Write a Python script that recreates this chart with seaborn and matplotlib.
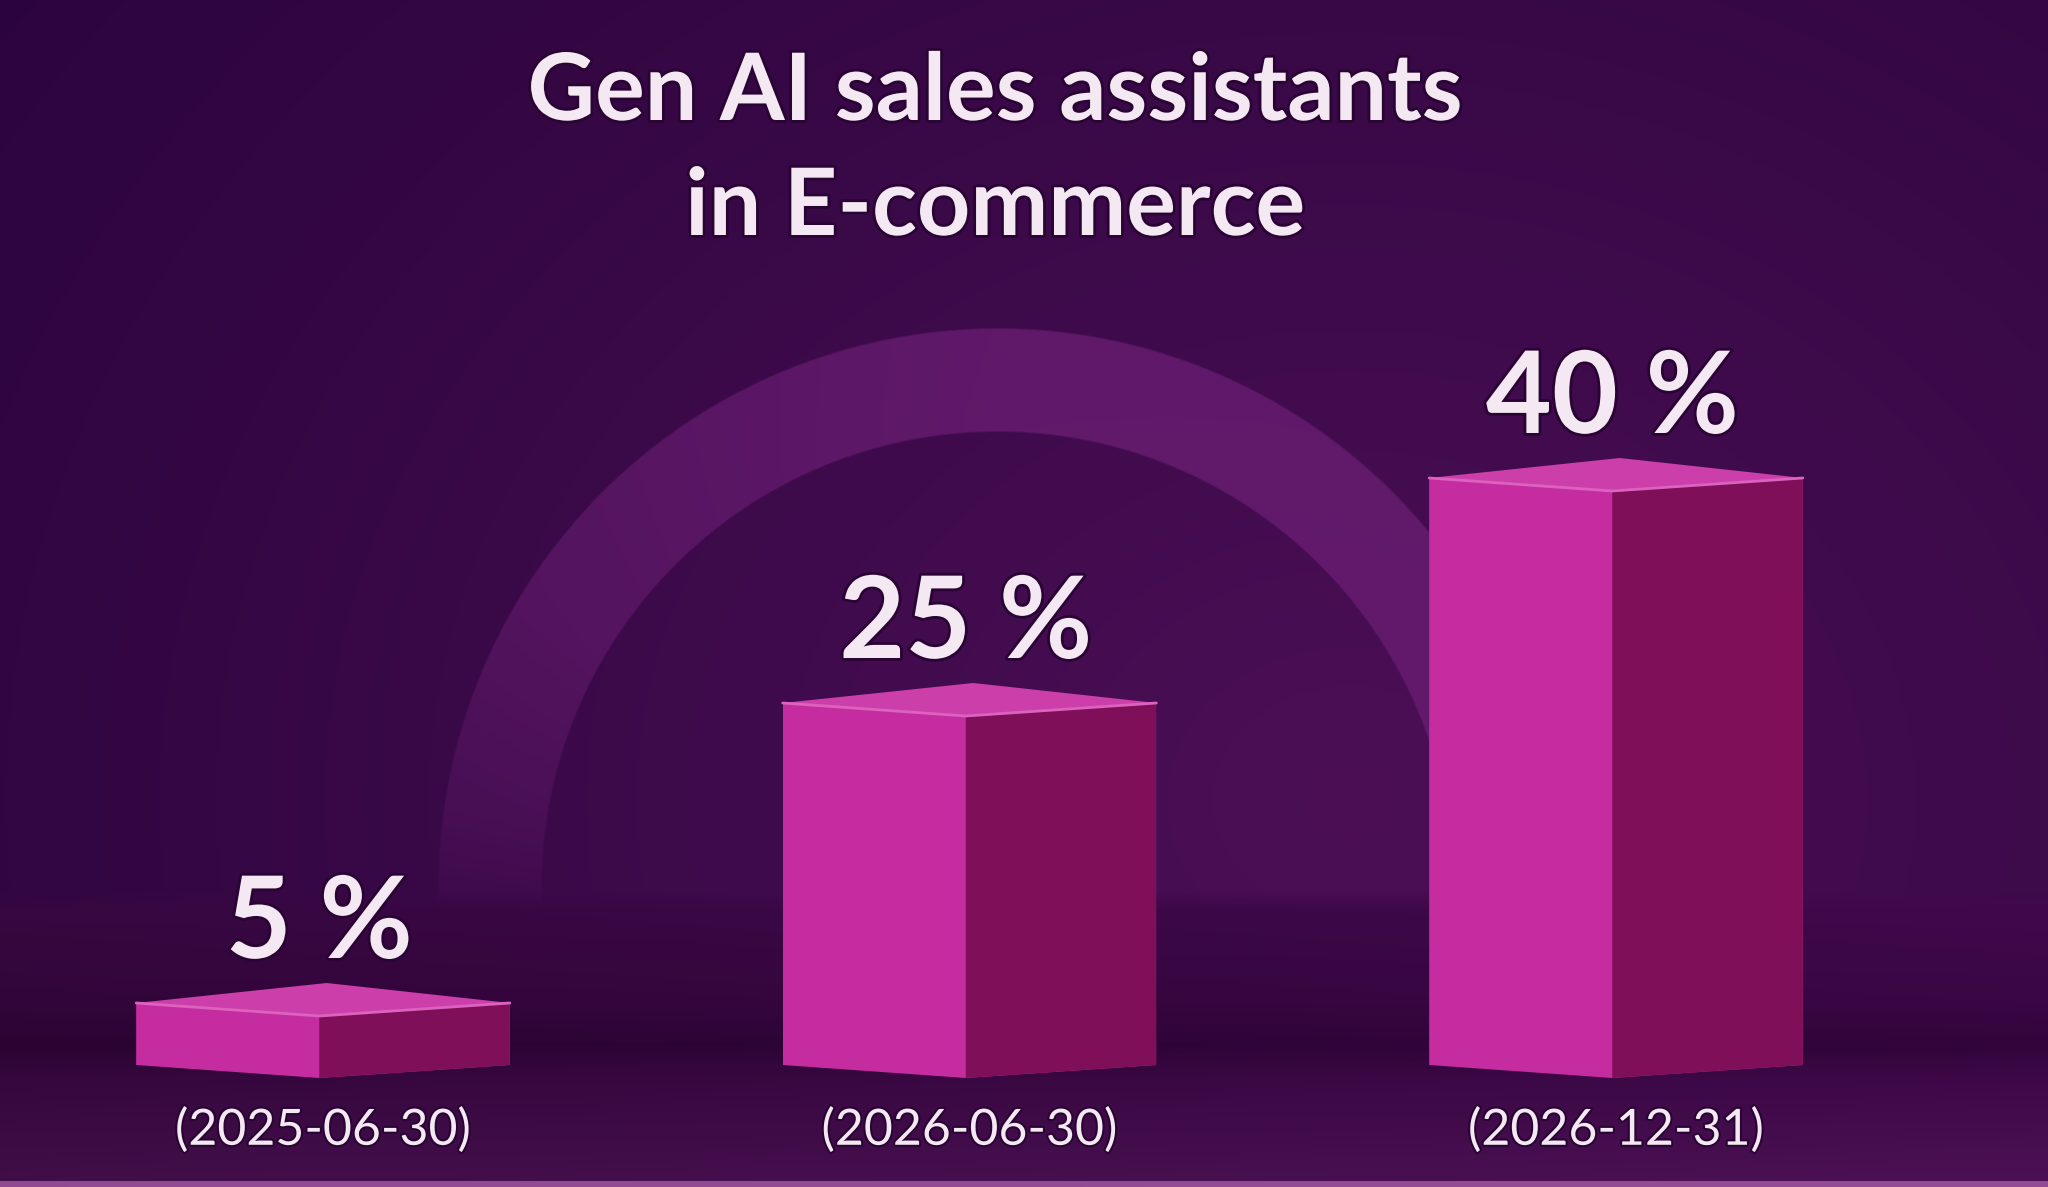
import numpy as np
import pandas as pd
import matplotlib
matplotlib.use("Agg")
import matplotlib.pyplot as plt
import matplotlib.patheffects as pe
from matplotlib.patches import Polygon
import seaborn as sns

# data
title_lines = ["Gen AI sales assistants", "in E-commerce"]
dates = ["(2025-06-30)", "(2026-06-30)", "(2026-12-31)"]
shares = [5, 25, 40]
value_labels = ["5 %", "25 %", "40 %"]

W, H = 2048, 1187
TEXT = "#f4e8f3"
LEFT_FACE = "#c52c9f"
RIGHT_FACE = "#7f0f58"
TOP_FACE = "#cc3fab"
OUTLINE = "#2a0434"

sns.set_style("white")
plt.rcParams["font.family"] = ["Lato", "DejaVu Sans"]

fig = plt.figure(figsize=(W / 100, H / 100), dpi=100)

# background: wall, floor and the faded arc, painted in pixel coordinates
bg = fig.add_axes([0, 0, 1, 1])
bg.set_xlim(0, W)
bg.set_ylim(H, 0)
bg.axis("off")

yy, xx = np.mgrid[0:H, 0:W]
dark = np.array([0x2b, 0x04, 0x3c]) / 255
light = np.array([0x4c, 0x0f, 0x56]) / 255
dist = np.hypot((xx - 1350) / 1.2, yy - 800)
t = np.clip(1 - dist / 1500, 0, 1) ** 1.2
wall = dark + (light - dark) * t[..., None]

# arc band on the wall
cx, cy, r_out, r_in = 997, 887, 560, 455
rr = np.hypot(xx - cx, yy - cy)
ang = np.degrees(np.arctan2(cy - yy, xx - cx))
ang = np.where(ang < -90, ang + 360, ang)
a_arc = np.interp(ang, [0, 90, 150, 172, 186], [0.5, 0.55, 0.38, 0.22, 0.0])
a_arc = np.where(ang < 0, 0, a_arc)
edge = np.clip((r_out - rr) / 2, 0, 1) * np.clip((rr - r_in) / 2, 0, 1)
a_arc = (a_arc * edge)[..., None]
arc_col = np.array([0x7c, 0x25, 0x83]) / 255
wall = wall * (1 - a_arc) + arc_col * a_arc

fy = [900, 1000, 1045, 1080, 1187]
fcols = np.array([[0x3c, 0x08, 0x47], [0x36, 0x06, 0x3f], [0x2e, 0x04, 0x37],
                  [0x3a, 0x08, 0x43], [0x47, 0x10, 0x4f]]) / 255
col_y = np.stack([np.interp(np.arange(H), fy, fcols[:, c]) for c in range(3)], axis=1)
floor = col_y[:, None, :] * (0.92 + 0.16 * (xx / W))[..., None]
blend = np.clip((yy - 890) / 20, 0, 1)[..., None]
img = np.clip(wall * (1 - blend) + floor * blend, 0, 1)
bg.imshow(img, extent=(0, W, H, 0), aspect="auto", interpolation="bilinear", zorder=0)
bg.axhspan(1181, H, color="#a65aa6", alpha=0.8, lw=0, zorder=1)

# bars
ax = fig.add_axes([0, 0, 1, 1])
ax.set_facecolor("none")
df = pd.DataFrame({"date": dates, "share": shares})
sns.barplot(data=df, x="date", y="share", color=LEFT_FACE, saturation=1,
            width=0.578, errorbar=None, ax=ax)

px_x = 646.5
px_y = 15.0
x_start = -323 / px_x
ax.set_xlim(x_start, x_start + W / px_x)
ax.set_ylim(-109 / px_y, (H - 109) / px_y)

d = 13 / px_y
d2 = 20 / px_y
for p, lab in zip(ax.patches, value_labels):
    x0, w, h = p.get_x(), p.get_width(), p.get_height()
    x1 = x0 + w
    xe = x0 + 0.49 * w
    xb = x0 + (x1 - xe)
    outline = Polygon([(x0, d), (xe, 0), (x1, d), (x1, h), (xe, h - d), (x0, h)],
                      closed=True, transform=ax.transData)
    p.set_clip_path(outline)
    p.set_linewidth(0)
    ax.add_patch(Polygon([(xe, 0), (x1, d), (x1, h), (xe, h - d)],
                         closed=True, color=RIGHT_FACE, lw=0, zorder=3))
    ax.add_patch(Polygon([(x0, h), (xe, h - d), (x1, h), (xb, h + d2)],
                         closed=True, color=TOP_FACE, lw=0, zorder=3))
    ax.plot([x0, xe, x1], [h, h - d, h], color="#dc62bf", lw=2, zorder=4)
    ax.text(xe, h + 45 / px_y, lab, ha="center", va="baseline", fontsize=82,
            fontweight="bold", color=TEXT,
            path_effects=[pe.withStroke(linewidth=4, foreground=OUTLINE)])

for s in ax.spines.values():
    s.set_visible(False)
ax.spines["bottom"].set_position(("data", 0))
ax.set_xlabel("")
ax.set_ylabel("")
ax.set_yticks([])
ax.tick_params(axis="x", length=0, pad=21, labelsize=36, labelcolor=TEXT)
for tl in ax.get_xticklabels():
    tl.set_path_effects([pe.withStroke(linewidth=3, foreground=OUTLINE)])

# title
for line, base in zip(title_lines, [120, 235]):
    fig.text(995 / W, 1 - base / H, line, ha="center", va="baseline",
             fontsize=67, fontweight="bold", color=TEXT,
             path_effects=[pe.withStroke(linewidth=4, foreground=OUTLINE)])

fig.savefig("out.png", dpi=100)
